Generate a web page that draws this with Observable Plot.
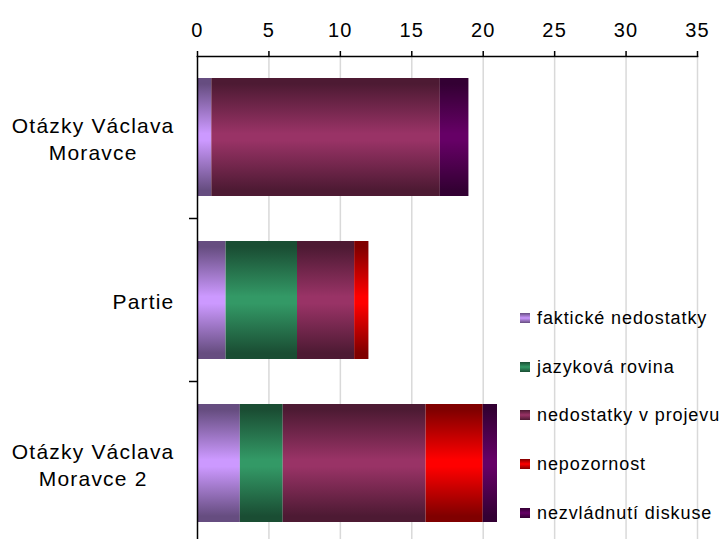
<!DOCTYPE html>
<html><head><meta charset="utf-8">
<script src="https://cdn.jsdelivr.net/npm/d3@7"></script>
<script src="https://cdn.jsdelivr.net/npm/@observablehq/plot@0.6"></script>
<style>
body{margin:0;background:#fff;}
#wrap{position:relative;width:722px;height:539px;font-family:"Liberation Sans",Arial,sans-serif;overflow:hidden;}
.leg{position:absolute;left:520px;height:20px;font-size:18px;line-height:20px;letter-spacing:0.9px;color:#000;display:flex;align-items:center;white-space:nowrap;}
.sw{width:10px;height:10px;margin-right:7px;flex:none;}
</style></head><body><div id="wrap"></div>
<script>
const categories = ["Otázky Václava Moravce", "Partie", "Otázky Václava Moravce 2"];
const categoryLabels = ["Otázky Václava\nMoravce", "Partie", "Otázky Václava\nMoravce 2"];
const seriesNames = ["faktické nedostatky", "jazyková rovina", "nedostatky v projevu", "nepozornost", "nezvládnutí diskuse"];
const faktickeNedostatky = [1, 2, 3];
const jazykovaRovina = [0, 5, 3];
const nedostatkyVProjevu = [16, 4, 10];
const nepozornost = [0, 1, 4];
const nezvladnutiDiskuse = [2, 0, 1];
const xTicks = [0, 5, 10, 15, 20, 25, 30, 35];
const brightColors = ["#cc99ff", "#339966", "#993366", "#ff0000", "#660066"];
const edgeColors = ["#664d80", "#1a4d33", "#4d1a33", "#800000", "#330033"];

const seriesValues = [faktickeNedostatky, jazykovaRovina, nedostatkyVProjevu, nepozornost, nezvladnutiDiskuse];
const table = [];
categories.forEach((c, ci) => seriesNames.forEach((s, si) => table.push({category: c, series: s, value: seriesValues[si][ci]})));

const FONT = '"Liberation Sans", Arial, sans-serif';
const LS = 1.2;
const ctx = document.createElement("canvas").getContext("2d");
ctx.font = `21px ${FONT}`;
function labelWidth(t) {
  return Math.max(...t.split("\n").map(l => ctx.measureText(l).width + l.length * LS));
}

const svgNS = "http://www.w3.org/2000/svg";
const boundaryTicks = (index, scales, values, dimensions) => {
  const y = scales.y;
  const step = y.step ? y.step() : scales.scales.y.step;
  const bw = y.bandwidth ? y.bandwidth() : scales.scales.y.bandwidth;
  const g = document.createElementNS(svgNS, "g");
  for (let i = 1; i < categories.length; i++) {
    const yy = y(categories[i]) - (step - bw) / 2;
    const l = document.createElementNS(svgNS, "line");
    l.setAttribute("x1", dimensions.marginLeft - 8);
    l.setAttribute("x2", dimensions.marginLeft);
    l.setAttribute("y1", yy); l.setAttribute("y2", yy);
    l.setAttribute("stroke", "#000"); l.setAttribute("stroke-width", 1.5);
    g.appendChild(l);
  }
  return g;
};

const plot = Plot.plot({
  width: 722, height: 539,
  marginTop: 56, marginLeft: 197, marginRight: 25, marginBottom: 0,
  style: {fontFamily: FONT, fontSize: "20px", letterSpacing: LS + "px", color: "#000", background: "#fff"},
  x: {domain: [0, 35], axis: null, label: null},
  y: {domain: categories, axis: null, label: null, range: [55.5, 544.5], paddingInner: 0.276, paddingOuter: 0.138},
  color: {domain: seriesNames, range: seriesNames.map((d, i) => `url(#grad${i})`)},
  marks: [
    Plot.gridX(xTicks.slice(1), {stroke: "#d9d9d9", strokeOpacity: 1, strokeWidth: 1.5}),
    Plot.barX(table, Plot.stackX({x: "value", y: "category", fill: "series", order: seriesNames})),
    Plot.ruleX([0], {stroke: "#000", strokeWidth: 1.5}),
    Plot.frame({anchor: "top", stroke: "#000", strokeWidth: 1.5}),
    Plot.axisX(xTicks, {anchor: "top", label: null, tickSize: 6, tickPadding: 14, fontSize: 20, stroke: "#000", strokeWidth: 1.5}),
    boundaryTicks,
    ...categories.map((c, i) => Plot.text([c], {
      y: d => d, text: () => categoryLabels[i], frameAnchor: "left", textAnchor: "middle",
      dx: -23 - labelWidth(categoryLabels[i]) / 2, fontSize: 21, lineHeight: 1.3, fill: "#000"
    }))
  ]
});

const defs = document.createElementNS(svgNS, "defs");
brightColors.forEach((b, i) => {
  const lg = document.createElementNS(svgNS, "linearGradient");
  lg.setAttribute("id", `grad${i}`);
  lg.setAttribute("x1", "0"); lg.setAttribute("y1", "0"); lg.setAttribute("x2", "0"); lg.setAttribute("y2", "1");
  [[0, edgeColors[i]], [0.05, edgeColors[i]], [0.47, b], [0.53, b], [0.95, edgeColors[i]], [1, edgeColors[i]]].forEach(([o, c]) => {
    const s = document.createElementNS(svgNS, "stop");
    s.setAttribute("offset", o); s.setAttribute("stop-color", c);
    lg.appendChild(s);
  });
  defs.appendChild(lg);
});
plot.insertBefore(defs, plot.firstChild);

const wrap = document.getElementById("wrap");
wrap.appendChild(plot);
const legendCenters = [318, 367, 415, 464, 513];
seriesNames.forEach((s, i) => {
  const d = document.createElement("div");
  d.className = "leg";
  d.style.top = (legendCenters[i] - 10) + "px";
  const sw = document.createElement("div");
  sw.className = "sw";
  sw.style.background = `linear-gradient(to bottom, ${edgeColors[i]}, ${brightColors[i]}, ${edgeColors[i]})`;
  d.appendChild(sw);
  d.appendChild(document.createTextNode(s));
  wrap.appendChild(d);
});
</script></body></html>
